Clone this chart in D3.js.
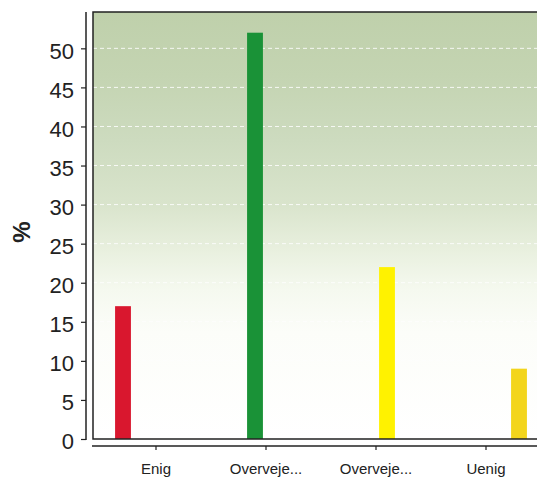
<!DOCTYPE html>
<html><head><meta charset="utf-8">
<script src="https://cdn.jsdelivr.net/npm/d3@7"></script>
<style>body{margin:0;background:#fff;}svg{display:block;}</style>
</head><body>
<svg id="c" width="537" height="479"></svg>
<script>
const categories = ["Enig", "Overveje...", "Overveje...", "Uenig"];
const values = [17, 52, 22, 9];
const barColors = ["#d9172e", "#1a9237", "#fff200", "#f3d51c"];
const yTicks = [0, 5, 10, 15, 20, 25, 30, 35, 40, 45, 50];
const yLabel = "%";

const svg = d3.select("#c");
const plot = {left: 93, right: 545, top: 12, bottom: 439};

const y = d3.scaleLinear().domain([0, 54.65]).range([plot.bottom, plot.top]);
const x = d3.scaleBand().domain(d3.range(categories.length)).range([101, 541]).padding(0);
const xs = d3.scaleBand().domain(d3.range(categories.length)).range([11, 99]).paddingInner(0.28).paddingOuter(0.14);

const defs = svg.append("defs");
const g = defs.append("linearGradient").attr("id", "bg").attr("x1", 0).attr("y1", 0).attr("x2", 0).attr("y2", 1);
[["0%", "#bfd0ab"], ["15%", "#c4d4b2"], ["30%", "#cddbbf"], ["45%", "#d9e4cc"],
 ["56%", "#e9f0df"], ["65%", "#f5f9ef"], ["75%", "#fcfdf9"], ["100%", "#ffffff"]]
  .forEach(([o, c]) => g.append("stop").attr("offset", o).attr("stop-color", c));

svg.append("rect").attr("x", plot.left).attr("y", plot.top)
  .attr("width", plot.right - plot.left).attr("height", plot.bottom - plot.top)
  .attr("fill", "url(#bg)");

// gridlines
svg.append("g").selectAll("line").data(yTicks.filter(d => d > 0)).join("line")
  .attr("x1", plot.left).attr("x2", plot.right)
  .attr("y1", d => y(d)).attr("y2", d => y(d))
  .attr("stroke", "#ffffff").attr("stroke-width", 1).attr("stroke-dasharray", "4,3").attr("opacity", 0.85);

// bars
svg.append("g").selectAll("rect").data(values).join("rect")
  .attr("x", (d, i) => x(i) + xs(i))
  .attr("width", xs.bandwidth())
  .attr("y", d => y(d))
  .attr("height", d => y(0) - y(d))
  .attr("fill", (d, i) => barColors[i]);

// plot border
svg.append("path")
  .attr("d", `M${plot.right},${plot.top}H${plot.left}V${plot.bottom}H${plot.right}`)
  .attr("fill", "none").attr("stroke", "#222").attr("stroke-width", 1.5);

// y axis
const yAxis = d3.axisLeft(y).tickValues(yTicks).tickSize(5).tickPadding(7);
const ya = svg.append("g").attr("transform", "translate(86,0)").call(yAxis);
ya.select(".domain").attr("d", `M0,${plot.top}V${plot.bottom + 1}`).attr("stroke", "#222").attr("stroke-width", 1.5);
ya.selectAll(".tick line").attr("stroke", "#222").attr("stroke-width", 1.2);
ya.selectAll(".tick text").attr("font-family", "Liberation Sans, Arial, sans-serif")
  .attr("font-size", 22).attr("fill", "#222").attr("dy", "0.45em");

// x axis
const xAxis = d3.axisBottom(d3.scaleBand().domain(d3.range(categories.length)).range([101, 541]))
  .tickFormat(i => categories[i]).tickSize(4).tickPadding(13).tickSizeOuter(0);
const xa = svg.append("g").attr("transform", "translate(0,446)").call(xAxis);
xa.select(".domain").attr("d", "M92,0H537").attr("stroke", "#222").attr("stroke-width", 1.5);
xa.selectAll(".tick line").attr("stroke", "#222").attr("stroke-width", 1.2);
xa.selectAll(".tick text").attr("font-family", "Liberation Sans, Arial, sans-serif")
  .attr("font-size", 15).attr("fill", "#222");

// y label
svg.append("text").attr("transform", "translate(30,232) rotate(-90)")
  .attr("text-anchor", "middle").attr("font-family", "Liberation Sans, Arial, sans-serif")
  .attr("font-size", 24).attr("font-weight", "bold").attr("fill", "#222").text(yLabel);
</script>
</body></html>
